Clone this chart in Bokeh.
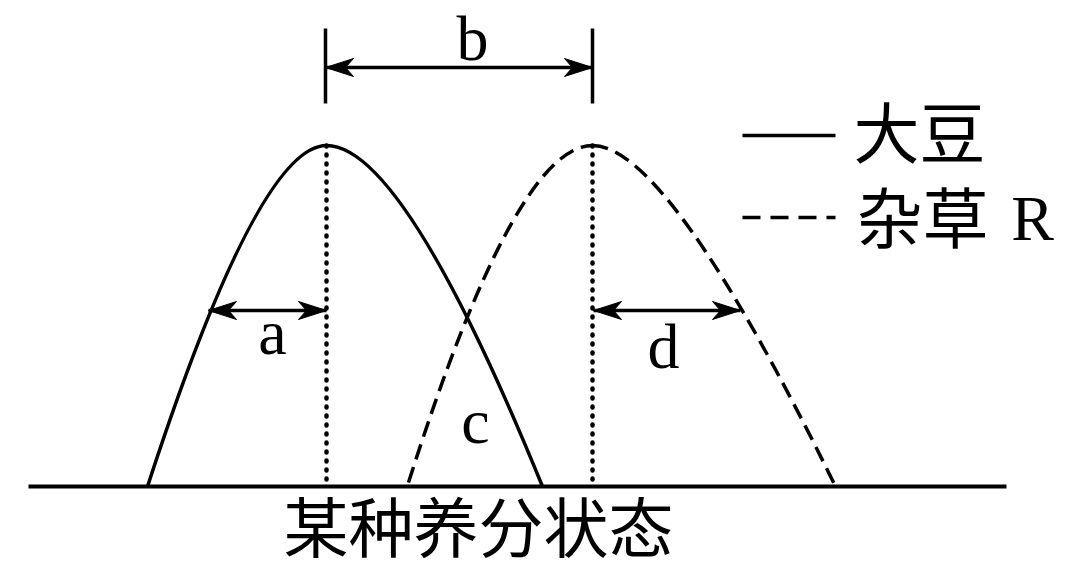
from bokeh.plotting import figure
from bokeh.models import Range1d
from bokeh.core.properties import value
from bokeh.embed import file_html
from bokeh.resources import INLINE

# ---- data (page pixel units; y grows downward) ----
# curve anchors: left foot, peak, right foot; control x for each half
soy_x = [147, 326, 542]
soy_y = [486, 145, 486]
soy_cx = [258, 403]
weed_x = [408, 592, 835]
weed_y = [482, 145, 486]
weed_cx = [515, 668]

base_x = [28, 1006]
base_y = 486

# vertical marker ticks above peaks
tick_x = [325, 592]
tick_y = [28, 103]

# double arrows: (x start, x end, y)
arrow_x0 = [325, 208, 593]
arrow_x1 = [592, 326, 740]
arrow_y = [67, 310, 310]

# letter labels
letter_text = ["b", "a", "c", "d"]
letter_x = [472, 272, 475, 663]
letter_y = [60, 354, 443, 368]

legend_names = ["大豆", "杂草"]
legend_line_x = [742, 835]
legend_line_y = [135, 217]
legend_text_x = [919, 922]
legend_text_y = [155, 240]
legend_suffix = "R"
axis_title = "某种养分状态"

LAT_OFF = 22   # text baseline correction (latin)
CJK_OFF = 27   # text baseline correction (cjk)

W, H = 1080, 572
p = figure(width=W, height=H, x_range=Range1d(0, W), y_range=Range1d(H, 0),
           output_backend="svg", toolbar_location=None, min_border=0,
           x_axis_location=None, y_axis_location=None, outline_line_color=None)
p.grid.visible = False
p.background_fill_color = "white"

LW = 3.5
# baseline
p.line(base_x, [base_y, base_y], line_color="black", line_width=4)

# soybean curve (solid)
for i in range(2):
    p.quadratic(x0=[soy_x[i]], y0=[soy_y[i]], x1=[soy_x[i + 1]], y1=[soy_y[i + 1]],
                cx=[soy_cx[i]], cy=[soy_y[1]], line_color="black", line_width=LW)
# weed curve (dashed)
for i in range(2):
    p.quadratic(x0=[weed_x[i]], y0=[weed_y[i]], x1=[weed_x[i + 1]], y1=[weed_y[i + 1]],
                cx=[weed_cx[i]], cy=[weed_y[1]], line_color="black", line_width=LW,
                line_dash="16 8")

# dotted verticals from peaks to baseline
for px, py in [(soy_x[1], soy_y[1]), (weed_x[1], weed_y[1])]:
    p.line([px, px], [py, base_y], line_color="black", line_width=4.5,
           line_dash="1 8", line_cap="round")

# ticks
p.segment(x0=tick_x, y0=[tick_y[0]] * 2, x1=tick_x, y1=[tick_y[1]] * 2,
          line_color="black", line_width=LW)

# arrows with notched heads
L, HW, N = 28, 9, 20
p.segment(x0=arrow_x0, y0=arrow_y, x1=arrow_x1, y1=arrow_y, line_color="black", line_width=LW)
hx, hy = [], []
for x0, x1, y in zip(arrow_x0, arrow_x1, arrow_y):
    for tip, d in [(x0, 1), (x1, -1)]:
        hx.append([tip, tip + d * L, tip + d * N, tip + d * L])
        hy.append([y, y - HW, y, y + HW])
p.patches(hx, hy, fill_color="black", line_color="black", line_width=1)

# letters
p.text(x=letter_x, y=[v - LAT_OFF for v in letter_y], text=letter_text,
       text_font=value("Liberation Serif"), text_font_size="64px", text_align="center",
       text_baseline="alphabetic", text_color="black")

# legend
p.line(legend_line_x, [legend_line_y[0]] * 2, line_color="black", line_width=LW)
p.line(legend_line_x, [legend_line_y[1]] * 2, line_color="black", line_width=LW, line_dash="18 10")
p.text(x=legend_text_x, y=[v - CJK_OFF for v in legend_text_y], text=legend_names,
       text_font=value("Noto Sans CJK SC"), text_font_size="66px", text_align="center",
       text_baseline="alphabetic", text_color="black")
p.text(x=[1032], y=[240 - LAT_OFF], text=[legend_suffix], text_font=value("Liberation Serif"),
       text_font_size="64px", text_align="center", text_baseline="alphabetic", text_color="black")

# axis title
p.text(x=[478], y=[550 - CJK_OFF], text=[axis_title], text_font=value("Noto Sans CJK SC"),
       text_font_size="65px", text_align="center", text_baseline="alphabetic", text_color="black")

open("out.html", "w").write(file_html(p, INLINE))
